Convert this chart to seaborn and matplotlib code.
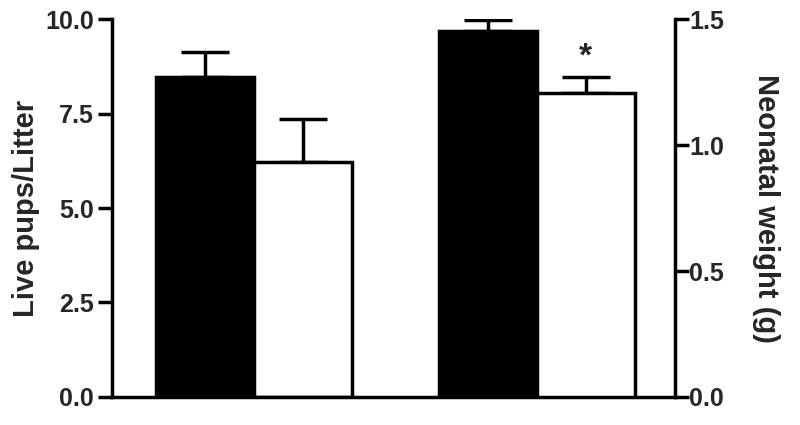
import matplotlib
matplotlib.use("Agg")
import matplotlib.pyplot as plt
import seaborn as sns
import pandas as pd

# data
groups = ["Live pups/Litter", "Neonatal weight (g)"]
conditions = ["Control", "Treated"]
pups_means = [8.48, 6.21]
pups_sem = [0.65, 1.14]
weight_means = [1.453, 1.208]
weight_sem = [0.042, 0.063]
left_ticks = [0.0, 2.5, 5.0, 7.5, 10.0]
right_ticks = [0.0, 0.5, 1.0, 1.5]
star_label = "*"

sns.set_theme(style="ticks")
plt.rcParams["font.family"] = ["Liberation Sans", "DejaVu Sans"]
plt.rcParams["font.weight"] = "bold"

df_pups = pd.DataFrame({"group": [groups[0]] * 2, "cond": conditions,
                        "value": pups_means, "err": pups_sem})
df_weight = pd.DataFrame({"group": [groups[1]] * 2, "cond": conditions,
                          "value": weight_means, "err": weight_sem})

fig = plt.figure(figsize=(8, 4.25), dpi=100)
ax = fig.add_axes([0.14, 0.066, 0.704, 0.889])
ax2 = ax.twinx()

palette = {"Control": "black", "Treated": "white"}
lw = 2.5

for a, d in ((ax, df_pups), (ax2, df_weight)):
    sns.barplot(data=d, x="group", y="value", hue="cond", order=groups,
                hue_order=conditions, palette=palette, edgecolor="black",
                linewidth=lw, width=0.69, errorbar=None, legend=False, ax=a,
                zorder=2)
    bars = [p for p in a.patches if p.get_height() > 0]
    bars.sort(key=lambda p: p.get_x())
    for p, e in zip(bars, d["err"]):
        cx = p.get_x() + p.get_width() / 2
        a.errorbar([cx], [p.get_height()], yerr=[[0], [e]], fmt="none",
                   ecolor="black", elinewidth=lw, capsize=17, capthick=lw,
                   zorder=1)

# asterisk above treated weight bar
wb = sorted([p for p in ax2.patches if p.get_height() > 0], key=lambda p: p.get_x())
cx = wb[1].get_x() + wb[1].get_width() / 2
ax2.text(cx, weight_means[1] + weight_sem[1] + 0.08, star_label, ha="center",
         va="center", fontsize=24, fontweight="bold")

ax.set_xlim(-0.502, 1.488)
ax.set_ylim(0, 10)
ax2.set_ylim(0, 1.5)
ax.set_yticks(left_ticks)
ax.set_yticklabels([f"{t:.1f}" for t in left_ticks])
ax2.set_yticks(right_ticks)
ax2.set_yticklabels([f"{t:.1f}" for t in right_ticks])
ax.set_xticks([])
ax.set_xlabel("")
ax2.set_xlabel("")

ax.set_ylabel("Live pups/Litter", fontsize=21, fontweight="bold", labelpad=4)
ax2.set_ylabel("Neonatal weight (g)", fontsize=21, fontweight="bold",
               rotation=270, labelpad=40)

for a in (ax, ax2):
    a.tick_params(axis="y", labelsize=18, width=lw, length=10, pad=3,
                  color="black")
    for lab in a.get_yticklabels():
        lab.set_fontweight("bold")
    for s in a.spines.values():
        s.set_linewidth(lw)
        s.set_color("black")
    a.spines["top"].set_visible(False)
    a.set_facecolor("none")
ax2.tick_params(axis="y", pad=0)

ax.spines["right"].set_visible(False)
ax2.spines["left"].set_visible(False)
ax2.spines["bottom"].set_visible(False)
ax.spines["bottom"].set_zorder(3)

fig.savefig("out.png", dpi=100, facecolor="white")
